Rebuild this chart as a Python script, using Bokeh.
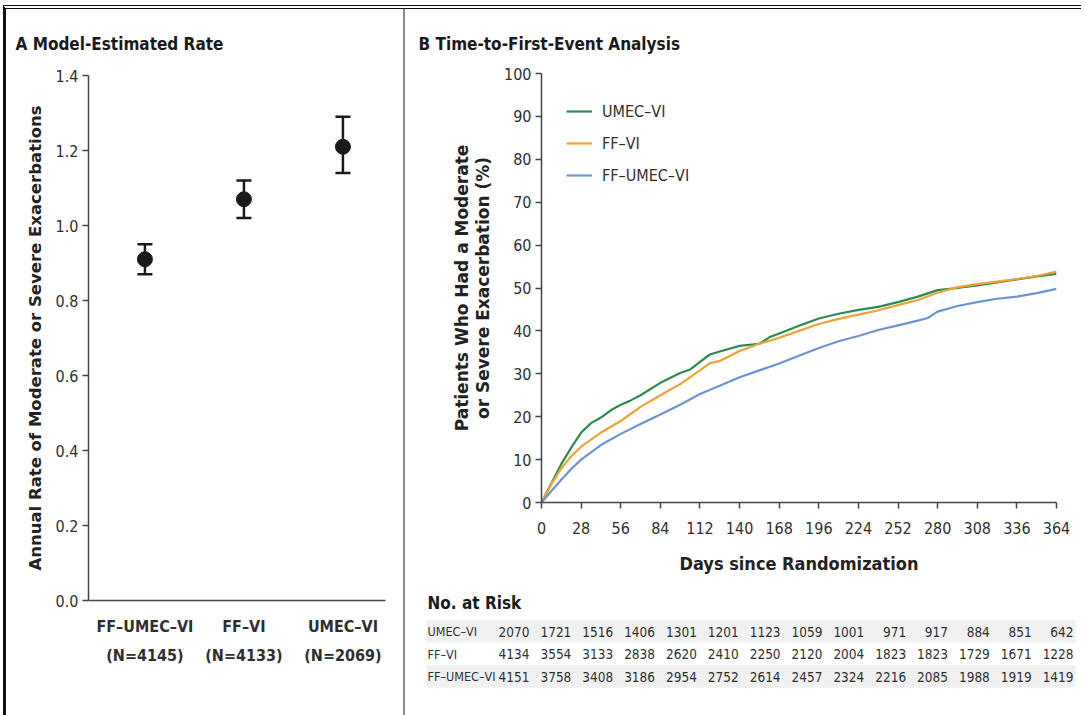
from bokeh.plotting import figure
from bokeh.layouts import row, column
from bokeh.models import (Range1d, Whisker, TeeHead, ColumnDataSource, Legend,
                          LegendItem, FixedTicker)
from bokeh.core.properties import value
from bokeh.embed import file_html
from bokeh.resources import INLINE

NARROW = "'DejaVu Sans Condensed', Lato"
WIDE = "DejaVu Sans"
TXT = "#2f2f2f"

# ---------------- data ----------------
groups = ["FF–UMEC–VI", "FF–VI", "UMEC–VI"]
group_n = ["4145", "4133", "2069"]
rate = [0.91, 1.07, 1.21]
rate_lo = [0.87, 1.02, 1.14]
rate_hi = [0.95, 1.12, 1.29]

days_umec = [0, 7, 14, 21, 28, 35, 42, 49, 56, 63, 70, 84, 98, 105, 112, 119, 126, 140, 154,
             161, 168, 182, 196, 210, 224, 238, 252, 266, 280, 294, 308, 322, 336, 350, 364]
pct_umec = [0, 4.5, 9.0, 12.8, 16.3, 18.5, 19.8, 21.5, 22.8, 23.8, 25.0, 27.9, 30.2, 31.0, 32.8,
            34.5, 35.2, 36.5, 37.0, 38.5, 39.4, 41.2, 42.9, 44.0, 44.9, 45.6, 46.7, 48.0, 49.5,
            50.0, 50.6, 51.3, 52.0, 52.7, 53.3]

days_ffvi = [0, 7, 14, 21, 28, 42, 56, 70, 84, 98, 112, 119, 126, 140, 154, 168, 182, 196, 210,
             224, 238, 252, 266, 280, 294, 308, 322, 336, 350, 364]
pct_ffvi = [0, 4.3, 8.0, 10.8, 13.0, 16.3, 19.0, 22.3, 25.0, 27.6, 30.8, 32.5, 33.0, 35.3, 37.0,
            38.4, 40.0, 41.6, 42.8, 43.8, 44.8, 46.0, 47.2, 48.9, 50.2, 50.9, 51.5, 52.1, 52.8, 53.8]

days_triple = [0, 7, 14, 21, 28, 42, 56, 70, 84, 98, 112, 126, 140, 154, 168, 182, 196, 210, 224,
               238, 252, 266, 273, 280, 294, 308, 322, 336, 350, 364]
pct_triple = [0, 2.7, 5.3, 7.8, 10.0, 13.4, 16.0, 18.3, 20.5, 22.8, 25.3, 27.2, 29.2, 30.8, 32.4,
              34.2, 36.0, 37.6, 38.8, 40.2, 41.3, 42.4, 43.0, 44.5, 45.8, 46.7, 47.5, 48.0, 48.8, 49.8]

risk_days = [0, 28, 56, 84, 112, 140, 168, 196, 224, 252, 280, 308, 336, 364]
y_ticks_b = [0, 10, 20, 30, 40, 50, 60, 70, 80, 90, 100]
y_ticks_a = [0.0, 0.2, 0.4, 0.6, 0.8, 1.0, 1.2, 1.4]
risk_labels = ["UMEC–VI", "FF–VI", "FF–UMEC–VI"]
risk_umec = [2070, 1721, 1516, 1406, 1301, 1201, 1123, 1059, 1001, 971, 917, 884, 851, 642]
risk_ffvi = [4134, 3554, 3133, 2838, 2620, 2410, 2250, 2120, 2004, 1823, 1823, 1729, 1671, 1228]
risk_triple = [4151, 3758, 3408, 3186, 2954, 2752, 2614, 2457, 2324, 2216, 2085, 1988, 1919, 1419]

C_UMEC = "#2e8b4f"
C_FFVI = "#f0a236"
C_TRIPLE = "#6d93d4"


def style_axes(p):
    for ax in (p.xaxis + p.yaxis):
        ax.axis_line_color = "#444444"
        ax.axis_line_width = 1.5
        ax.major_tick_line_color = "#444444"
        ax.major_tick_line_width = 1.5
        ax.major_tick_out = 6
        ax.major_tick_in = 0
        ax.minor_tick_line_color = None
        ax.major_label_text_font = NARROW
        ax.major_label_text_font_size = "16px"
        ax.major_label_text_color = TXT
        ax.axis_label_text_color = "#222222"
    p.grid.visible = False
    p.outline_line_color = None
    p.frame_align = False


# ---------------- panel A ----------------
pA = figure(width=399, height=706, x_range=Range1d(0.43, 3.43), y_range=Range1d(0, 1.4),
            output_backend="svg", toolbar_location=None,
            min_border_left=82, min_border_right=20, min_border_top=66, min_border_bottom=115)
style_axes(pA)
xs = [1, 2, 3]
pA.xaxis.ticker = FixedTicker(ticks=xs)
pA.xaxis.major_label_overrides = {x: f"{g}\n(N={n})" for x, g, n in zip(xs, groups, group_n)}
pA.xaxis.major_tick_line_color = None
pA.xaxis.major_label_text_font_style = "bold"
pA.xaxis.major_label_text_font_size = "16px"
pA.xaxis.major_label_text_line_height = 1.55
pA.xaxis.major_label_standoff = 10
pA.yaxis.ticker = FixedTicker(ticks=y_ticks_a)
pA.yaxis.major_label_overrides = {t: f"{t:.1f}" for t in y_ticks_a}
pA.yaxis.major_label_standoff = 4
pA.yaxis.axis_label = "Annual Rate of Moderate or Severe Exacerbations"
pA.yaxis.axis_label_text_font = WIDE
pA.yaxis.axis_label_text_font_style = "bold"
pA.yaxis.axis_label_text_font_size = "16.5px"
pA.yaxis.axis_label_standoff = 8

srcA = ColumnDataSource(dict(x=xs, y=rate, lo=rate_lo, hi=rate_hi))
wh = Whisker(base="x", lower="lo", upper="hi", source=srcA, line_color="#1a1a1a", line_width=2.5,
             upper_head=TeeHead(size=15, line_width=2.5, line_color="#1a1a1a"),
             lower_head=TeeHead(size=15, line_width=2.5, line_color="#1a1a1a"))
pA.add_layout(wh)
pA.scatter("x", "y", source=srcA, size=15, color="#1a1a1a")

pA.title.text = "A  Model-Estimated Rate"
pA.title.text_font = NARROW
pA.title.text_font_size = "17px"
pA.title.text_font_style = "bold"
pA.title.text_color = "#1a1a1a"
pA.title.align = "left"
pA.title.offset = -73
pA.title.standoff = 43
pA.styles = {"border-right": "2px solid #8a8a8a"}

# ---------------- panel B ----------------
pB = figure(width=676, height=581, x_range=Range1d(0, 364), y_range=Range1d(0, 100),
            output_backend="svg", toolbar_location=None,
            min_border_left=136, min_border_right=25, min_border_top=64, min_border_bottom=88)
style_axes(pB)
pB.xaxis.ticker = FixedTicker(ticks=risk_days)
pB.yaxis.ticker = FixedTicker(ticks=y_ticks_b)
pB.xaxis.major_label_standoff = 13
pB.yaxis.major_label_standoff = 4
pB.xaxis.axis_label = "Days since Randomization"
pB.xaxis.axis_label_text_font = NARROW
pB.xaxis.axis_label_text_font_style = "bold"
pB.xaxis.axis_label_text_font_size = "18px"
pB.xaxis.axis_label_standoff = 16
pB.yaxis.axis_label = "Patients Who Had a Moderate\nor Severe Exacerbation (%)"
pB.yaxis.axis_label_text_font = WIDE
pB.yaxis.axis_label_text_font_style = "bold"
pB.yaxis.axis_label_text_font_size = "17px"
pB.yaxis.axis_label_text_line_height = 1.05
pB.yaxis.axis_label_standoff = 8

r_umec = pB.line(days_umec, pct_umec, line_color=C_UMEC, line_width=2.2)
r_ffvi = pB.line(days_ffvi, pct_ffvi, line_color=C_FFVI, line_width=2.2)
r_triple = pB.line(days_triple, pct_triple, line_color=C_TRIPLE, line_width=2.2)

legend = Legend(items=[LegendItem(label="UMEC–VI", renderers=[r_umec]),
                       LegendItem(label="FF–VI", renderers=[r_ffvi]),
                       LegendItem(label="FF–UMEC–VI", renderers=[r_triple])],
                location=(25, 317), margin=0, padding=4, spacing=12,
                glyph_width=26, label_standoff=10,
                border_line_color=None, background_fill_alpha=0,
                label_text_font=NARROW, label_text_font_size="16px", label_text_color=TXT)
pB.add_layout(legend)

pB.title.text = "B  Time-to-First-Event Analysis"
pB.title.text_font = NARROW
pB.title.text_font_size = "17px"
pB.title.text_font_style = "bold"
pB.title.text_color = "#1a1a1a"
pB.title.align = "left"
pB.title.offset = -123
pB.title.standoff = 40

# ---------------- risk table ----------------
col_px = 41.85
first_px = 124.0
tw, th = 676, 125
row_px = 22.5
row0_px = 41.0
pT = figure(width=tw, height=th,
            x_range=Range1d(-first_px / col_px, (tw - first_px) / col_px),
            y_range=Range1d((th - row0_px) / row_px, -row0_px / row_px),
            output_backend="svg", toolbar_location=None,
            x_axis_type=None, y_axis_type=None, min_border=0)
pT.grid.visible = False
pT.outline_line_color = None
pT.frame_align = False

label_x = (22 - first_px) / col_px
band_l = (21 - first_px) / col_px
band_r = (670 - first_px) / col_px
pT.quad(left=[band_l, band_l], right=[band_r, band_r], bottom=[-0.5, 1.5], top=[0.5, 2.5],
        fill_color="#f1f1f1", line_color=None)

cols = list(range(len(risk_days)))
for r, vals in enumerate([risk_umec, risk_ffvi, risk_triple]):
    pT.text(x=cols, y=[r] * len(cols), text=[str(v) for v in vals],
            text_align="right", text_baseline="middle",
            text_font=value(NARROW), text_font_size="13.5px", text_color=TXT)
pT.text(x=[label_x] * 3, y=[0, 1, 2], text=risk_labels, text_align="left",
        text_baseline="middle", text_font=value(NARROW), text_font_size="12.5px", text_color=TXT)
pT.text(x=[label_x], y=[-1.25], text=["No. at Risk"], text_align="left",
        text_baseline="middle", text_font=value(NARROW), text_font_size="17px",
        text_font_style="bold", text_color="#1a1a1a")

root = row(pA, column(pB, pT))
root.styles = {"border-top": "4px double #111111", "border-left": "3px solid #111111",
               "margin-left": "3px", "margin-top": "5px"}

open("out.html", "w").write(file_html(root, INLINE))
